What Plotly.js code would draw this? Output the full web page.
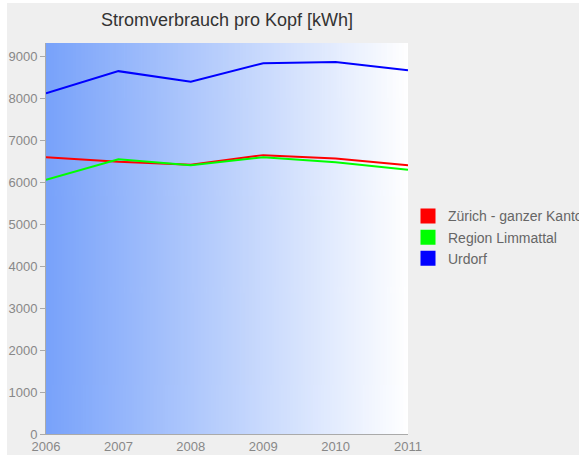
<!DOCTYPE html>
<html>
<head>
<meta charset="utf-8">
<script src="https://cdn.plot.ly/plotly-3.0.1.min.js"></script>
<style>
html, body { margin:0; padding:0; background:#ffffff; width:579px; height:457px; overflow:hidden; }
#chart { position:absolute; left:7px; top:3px; width:572px; height:452px; }
</style>
</head>
<body>
<div id="chart"></div>
<script>
const years = [2006, 2007, 2008, 2009, 2010, 2011];
const zurich = [6590, 6480, 6410, 6640, 6560, 6400];
const limmattal = [6050, 6540, 6400, 6590, 6470, 6290];
const urdorf = [8110, 8640, 8390, 8830, 8860, 8660];
const seriesNames = ["Zürich - ganzer Kanton", "Region Limmattal", "Urdorf"];
const seriesColors = ["#ff0000", "#00ff00", "#0000ff"];
const seriesValues = [zurich, limmattal, urdorf];
const yTicks = [0, 1000, 2000, 3000, 4000, 5000, 6000, 7000, 8000, 9000];

// gradient background image
const cv = document.createElement('canvas');
cv.width = 256; cv.height = 4;
const ctx = cv.getContext('2d');
const g = ctx.createLinearGradient(0, 0, 256, 0);
g.addColorStop(0, 'rgb(120,162,250)');
g.addColorStop(1, 'rgb(255,255,255)');
ctx.fillStyle = g;
ctx.fillRect(0, 0, 256, 4);
const bgURL = cv.toDataURL();

const traces = [];
seriesValues.forEach((vals, i) => {
  traces.push({
    x: years, y: vals, type: 'scatter', mode: 'lines',
    line: {color: seriesColors[i], width: 2},
    showlegend: false, hoverinfo: 'skip'
  });
});
seriesValues.forEach((vals, i) => {
  traces.push({
    x: [null], y: [null], type: 'scatter', mode: 'markers',
    marker: {symbol: 'square', size: 15, color: seriesColors[i]},
    name: seriesNames[i], showlegend: true
  });
});

const layout = {
  width: 572, height: 452,
  margin: {l: 39, r: 171, t: 39.5, b: 20.5, autoexpand: false},
  paper_bgcolor: '#efefef',
  plot_bgcolor: 'rgba(0,0,0,0)',
  font: {family: 'Liberation Sans, Arial, sans-serif', color: '#888888', size: 13},
  title: {
    text: 'Stromverbrauch pro Kopf [kWh]',
    font: {size: 18, color: '#333333', family: 'Liberation Sans, Arial, sans-serif'},
    xref: 'paper', x: 0.5, xanchor: 'center',
    yref: 'container', y: 1 - 17/452, yanchor: 'middle'
  },
  xaxis: {
    range: [2006, 2011], tickvals: years, ticktext: years.map(String),
    showgrid: false, zeroline: false, showline: true, linecolor: '#aaaaaa', linewidth: 1,
    ticks: '', tickfont: {size: 13, color: '#888888'}, fixedrange: true, automargin: false
  },
  yaxis: {
    range: [0, 9310], tickvals: yTicks, ticktext: yTicks.map(String),
    showgrid: false, zeroline: false, showline: true, linecolor: '#aaaaaa', linewidth: 1,
    ticks: 'outside', ticklen: 5, tickcolor: '#aaaaaa', tickfont: {size: 13, color: '#888888'}, fixedrange: true, automargin: false
  },
  legend: {
    x: 1.0, xanchor: 'left', y: 0.503, yanchor: 'middle',
    bgcolor: 'rgba(0,0,0,0)', font: {size: 14, color: '#666666'}
  },
  images: [{
    source: bgURL, xref: 'paper', yref: 'paper', x: 0, y: 1, sizex: 1, sizey: 1,
    sizing: 'stretch', layer: 'below', xanchor: 'left', yanchor: 'top'
  }],
  showlegend: true
};

Plotly.newPlot('chart', traces, layout, {displayModeBar: false, staticPlot: true});
</script>
</body>
</html>
